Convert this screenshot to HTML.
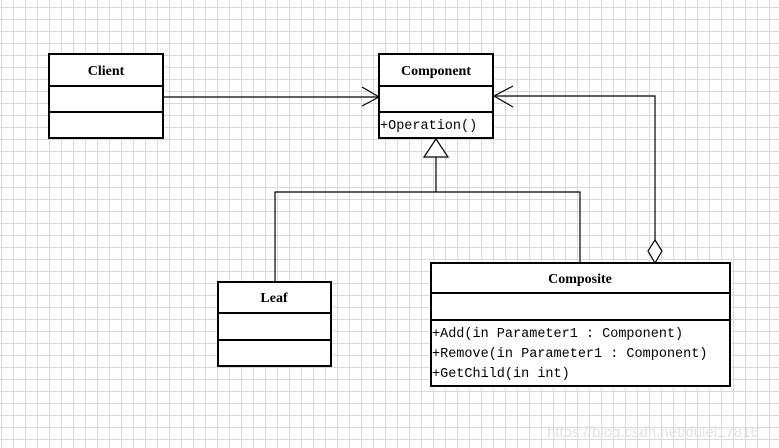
<!DOCTYPE html>
<html><head><meta charset="utf-8"><style>
html,body{margin:0;padding:0}
body{width:779px;height:448px;overflow:hidden;background:#fff;
background-image:linear-gradient(to right,#d9d9d9 1px,transparent 1px),linear-gradient(to bottom,#d9d9d9 1px,transparent 1px);
background-size:12px 12px;background-position:1px 7px;}
</style></head><body>
<svg width="779" height="448" style="position:absolute;left:0;top:0" font-family="'Liberation Mono','Noto Sans CJK SC',monospace">
<g fill="#fff" stroke="#000" stroke-width="2">
<rect x="49" y="54" width="114" height="84"/>
<rect x="379" y="54" width="114" height="84"/>
<rect x="218" y="282" width="113" height="84"/>
<rect x="431" y="263" width="299" height="123"/>
</g>
<g stroke="#000" stroke-width="2">
<line x1="49" y1="86" x2="163" y2="86"/><line x1="49" y1="112" x2="163" y2="112"/>
<line x1="379" y1="86" x2="493" y2="86"/><line x1="379" y1="112" x2="493" y2="112"/>
<line x1="218" y1="313" x2="331" y2="313"/><line x1="218" y1="340" x2="331" y2="340"/>
<line x1="431" y1="293" x2="730" y2="293"/><line x1="431" y1="320" x2="730" y2="320"/>
</g>
<g stroke="#000" stroke-width="1.2" fill="none">
<line x1="163" y1="97" x2="379" y2="97"/>
<polyline points="362,87 379,97 362,106"/>
<polyline points="493,96 655,96 655,240"/>
<polyline points="513,86 494,96 513,107"/>
<polygon points="655,240 662,251 655,263 648,251" fill="#fff"/>
<polygon points="436,139 448,157 424,157" fill="#fff"/>
<line x1="436" y1="157" x2="436" y2="192"/>
<polyline points="275,282 275,192 580,192 580,263"/>
</g>
<g font-size="14" font-weight="bold" text-anchor="middle" font-family="'Liberation Serif',serif">
<text x="106" y="75">Client</text>
<text x="436" y="75">Component</text>
<text x="274" y="302">Leaf</text>
<text x="580" y="283">Composite</text>
</g>
<g font-size="13.5">
<text x="380" y="129">+Operation()</text>
<text x="432" y="337">+Add(in Parameter1 : Component)</text>
<text x="432" y="357">+Remove(in Parameter1 : Component)</text>
<text x="432" y="377">+GetChild(in int)</text>
</g>
<text x="547" y="437" font-size="15" fill="#e2e2e2" font-family="'Liberation Sans',sans-serif">https://blog.csdn.net/dulei17816</text>
</svg>
</body></html>
